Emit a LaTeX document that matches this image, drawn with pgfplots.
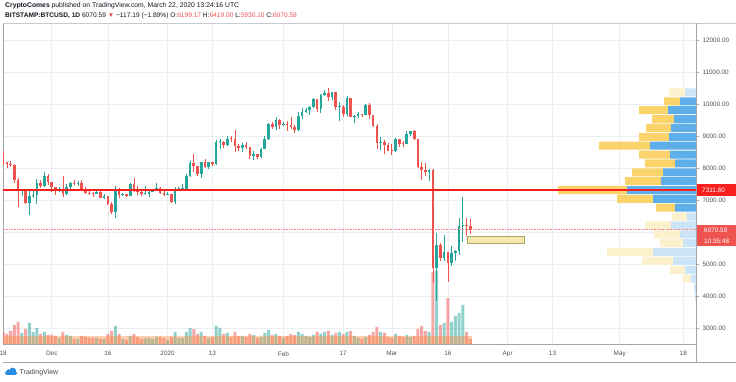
\documentclass[border=0pt]{standalone}
\usepackage{pgfplots}
\pgfplotsset{compat=1.18}
\usepackage{pgfplotstable}
\usepackage{fontspec}
\setmainfont{Liberation Sans}
\definecolor{tvgreen}{HTML}{26A69A}
\definecolor{tvred}{HTML}{EF5350}
\definecolor{pocred}{HTML}{F8201F}
\definecolor{gridc}{HTML}{EBEEF3}
\definecolor{framec}{HTML}{A3A6AE}
\definecolor{vpblue}{HTML}{5EAEEA}
\definecolor{vpyellow}{HTML}{FBD36B}
\definecolor{vpblueL}{HTML}{CBE4F7}
\definecolor{vpyellowL}{HTML}{FDF0CD}
\definecolor{volband}{HTML}{FF8A3D}
\definecolor{textc}{HTML}{131722}
\definecolor{axtext}{HTML}{50535E}
\definecolor{rectfill}{HTML}{F6E8B1}
\definecolor{rectborder}{HTML}{ABAA62}
\definecolor{logoblue}{HTML}{2A8FE0}

\pgfplotstableread{
d O H L C V
-44 8500 8520 8080 8180 12
-43 8180 8200 7990 8120 10
-42 8120 8210 8030 8080 13
-41 8080 8120 7520 7620 19
-40 7620 7700 6790 7290 22
-39 7290 7350 7130 7320 11
-38 7320 7340 6860 6910 15
-37 6910 7320 6520 7130 21
-36 7130 7340 7060 7170 12
-35 7170 7650 6860 7520 16
-34 7520 7630 7380 7440 10
-33 7440 7870 7420 7760 12
-32 7760 7820 7470 7560 9
-31 7560 7560 7240 7400 9
-30 7400 7420 7160 7300 8
-29 7300 7410 7250 7300 6
-28 7300 7750 7080 7200 12
-27 7200 7490 7170 7400 9
-26 7400 7570 7340 7540 8
-25 7540 7630 7470 7510 5
-24 7510 7580 7440 7520 5
-23 7520 7640 7300 7340 8
-22 7340 7400 7180 7220 7
-21 7220 7280 7160 7200 6
-20 7200 7260 7100 7190 6
-19 7190 7300 7180 7250 6
-18 7250 7270 7050 7070 5
-17 7070 7190 7020 7110 5
-16 7110 7140 6850 6880 10
-15 6880 6940 6560 6620 13
-14 6620 7440 6430 7280 18
-13 7280 7380 7050 7150 10
-12 7150 7220 7120 7190 5
-11 7190 7200 7100 7140 4
-10 7140 7520 7120 7510 8
-9 7510 7690 7260 7320 10
-8 7320 7440 7160 7250 7
-7 7250 7270 7130 7200 5
-6 7200 7440 7150 7200 6
-5 7200 7280 7080 7250 6
-4 7250 7350 7240 7300 5
-3 7300 7520 7280 7390 7
-2 7390 7410 7190 7220 7
-1 7220 7310 7130 7170 6
0 7170 7250 7150 7180 4
1 7180 7200 6920 6950 7
2 6950 7400 6860 7340 12
3 7340 7400 7270 7350 6
4 7350 7500 7300 7350 6
5 7350 7800 7340 7760 12
6 7760 8220 7720 8150 16
7 8150 8450 7870 8050 15
8 8050 8060 7760 7820 10
9 7820 8190 7680 8190 12
10 8190 8280 8000 8030 8
11 8030 8190 7970 8180 6
12 8180 8190 8060 8110 7
13 8110 8880 8100 8810 18
14 8810 8900 8580 8820 16
15 8820 8850 8620 8720 10
16 8720 9000 8680 8910 11
17 8910 9000 8820 8900 7
18 8900 9180 8500 8700 12
19 8700 8740 8520 8630 8
20 8630 8770 8490 8730 8
21 8730 8800 8600 8660 7
22 8660 8670 8290 8390 10
23 8390 8520 8240 8430 9
24 8430 8440 8270 8340 6
25 8340 8610 8300 8600 7
26 8600 8990 8580 8900 11
27 8900 9400 8880 9390 14
28 9390 9430 9220 9290 9
29 9290 9580 9200 9500 10
30 9500 9530 9230 9350 8
31 9350 9440 9310 9380 6
32 9380 9480 9160 9330 8
33 9330 9600 9230 9290 10
34 9290 9340 9100 9180 9
35 9180 9750 9170 9620 12
36 9620 9860 9530 9760 10
37 9760 9870 9720 9810 8
38 9810 9950 9670 9900 7
39 9900 10180 9880 10160 9
40 10160 10170 9740 9850 12
41 9850 10300 9720 10270 10
42 10270 10450 10240 10350 12
43 10350 10500 10080 10230 13
44 10230 10390 10130 10360 9
45 10360 10380 9820 9900 11
46 9900 10050 9460 9920 12
47 9920 9960 9580 9700 10
48 9700 10250 9620 10180 12
49 10180 10200 9600 9600 13
50 9600 9660 9420 9610 8
51 9610 9760 9570 9690 6
52 9690 9700 9590 9670 5
53 9670 9990 9660 9960 7
54 9960 10020 9520 9650 9
55 9650 9660 9280 9310 12
56 9310 9370 8600 8780 17
57 8780 8970 8550 8810 12
58 8810 8890 8450 8710 11
59 8710 8780 8530 8540 7
60 8540 8750 8410 8530 6
61 8530 8950 8510 8910 10
62 8910 8920 8650 8760 8
63 8760 8840 8660 8750 7
64 8750 9150 8750 9070 9
65 9070 9170 9010 9160 7
66 9160 9200 8860 8900 8
67 8900 8900 8000 8040 15
68 8040 8180 7640 7930 18
69 7930 8150 7740 7890 13
70 7890 7980 7600 7940 12
71 7940 7960 4420 4860 72
72 4860 5960 3850 5600 73
73 5600 5660 5080 5190 19
74 5190 5900 5100 5360 21
75 5360 5370 4440 5030 46
76 5030 5550 4930 5330 22
77 5330 5440 5100 5410 28
78 5410 6440 5270 6190 31
79 6190 7100 5700 6200 39
80 6200 6450 5860 6190 12
81 6199.17 6419 5930.1 6070.59 5
}\btc

\pgfplotstableread{
y B Y LB LY
10360.2 0 0 11 16
10083.1 16 16 0 0
9806.0 28 29 0 0
9528.9 22 22 0 0
9251.8 25 25 0 0
8974.7 27 30 0 0
8697.6 46 51 0 0
8420.5 26 31 0 0
8143.4 21 30 0 0
7866.3 33 31 0 0
7589.2 35 36 0 0
7311.8 69 69 0 0
7034.7 43 36 0 0
6757.6 21 19 0 0
6480.5 0 0 9 15
6203.4 0 0 25 26
5926.3 0 0 16 26
5649.2 0 0 13 23
5372.1 0 0 43 46
5095.0 0 0 23 31
4817.9 0 0 11 15
4540.8 0 0 5 8
4263.7 0 0 2 0
3986.6 0 0 1 0
}\vp

\pgfplotsset{
  chartgeom/.style={at={(3pt,38pt)}, anchor=south west, width=693pt, height=321pt,
    scale only axis, xmin=-44.05, xmax=141.4},
}

\begin{document}
\begin{tikzpicture}
\begin{scope}[x=1pt,y=1pt]
\fill[white] (0,0) rectangle (736,382);
\end{scope}

% ---- main axis: grid, ticks, labels
\begin{axis}[chartgeom, ymin=2500, ymax=12531,
  scaled y ticks=false, scaled x ticks=false,
  axis line style={framec, line width=0.5pt},
  grid=major, major grid style={gridc, line width=0.6pt},
  xtick={-44,-31,-16,0,12,31,47,60,75,91,103,121,138},
  xticklabels={18,Dec,16,2020,13,Feb,17,Mar,16,Apr,13,May,18},
  ytick={3000,4000,5000,6000,7000,8000,9000,10000,11000,12000},
  yticklabels={3000.00,4000.00,5000.00,{},7000.00,8000.00,9000.00,10000.00,11000.00,12000.00},
  yticklabel pos=right, ytick pos=right, xtick pos=bottom,
  tick align=outside, major tick length=3pt,
  x tick style={draw=none}, y tick style={framec, line width=0.5pt},
  tick label style={font=\fontsize{6.4}{7}\selectfont, text=axtext},
  xticklabel style={yshift=-1pt},
]
\end{axis}

% ---- visible range volume profile
\begin{axis}[at={(3pt,38pt)}, anchor=south west, width=693pt, height=321pt,
  scale only axis, xmin=0, xmax=693, x dir=reverse, ymin=2500, ymax=12531,
  axis lines=none, xbar stacked, bar width=250]
\addplot[draw=none, fill=vpblue] table[x=B,y=y]{\vp};
\addplot[draw=none, fill=vpyellow] table[x=Y,y=y]{\vp};
\addplot[draw=none, fill=vpblueL] table[x=LB,y=y]{\vp};
\addplot[draw=none, fill=vpyellowL] table[x=LY,y=y]{\vp};
\end{axis}

% ---- candles
\begin{axis}[chartgeom, ymin=2500, ymax=12531, axis lines=none, clip=true]
\addplot[draw=none, mark=none,
  y filter/.expression={\thisrow{C}<\thisrow{O} ? nan : y},
  error bars/.cd, y dir=plus, y explicit, error mark=none,
  error bar style={draw=tvgreen, line width=0.7pt}]
  table[x=d, y=L, y error plus expr=\thisrow{H}-\thisrow{L}]{\btc};
\addplot[draw=none, mark=none,
  y filter/.expression={\thisrow{C}<\thisrow{O} ? y : nan},
  error bars/.cd, y dir=plus, y explicit, error mark=none,
  error bar style={draw=tvred, line width=0.7pt}]
  table[x=d, y=L, y error plus expr=\thisrow{H}-\thisrow{L}]{\btc};
\addplot[draw=none, mark=none,
  y filter/.expression={\thisrow{C}<\thisrow{O} ? nan : y},
  error bars/.cd, y dir=plus, y explicit, error mark=none,
  error bar style={draw=tvgreen, line width=2.6pt}]
  table[x=d, y=O, y error plus expr={max(\thisrow{C}-\thisrow{O},30)}]{\btc};
\addplot[draw=none, mark=none,
  y filter/.expression={\thisrow{C}<\thisrow{O} ? y : nan},
  error bars/.cd, y dir=plus, y explicit, error mark=none,
  error bar style={draw=tvred, line width=2.6pt}]
  table[x=d, y=C, y error plus expr={max(\thisrow{O}-\thisrow{C},30)}]{\btc};
\end{axis}

% ---- volume overlay (translucent, over candles)
\begin{axis}[chartgeom, ymin=0, ymax=321, axis lines=none, clip=true]
\addplot[ybar, bar width=0.8, bar shift=0pt, draw=none, fill=tvred, fill opacity=0.5,
  y filter/.expression={\thisrow{C}<\thisrow{O} ? y : nan}] table[x=d,y=V]{\btc};
\addplot[ybar, bar width=0.8, bar shift=0pt, draw=none, fill=tvgreen, fill opacity=0.5,
  y filter/.expression={\thisrow{C}<\thisrow{O} ? nan : y}] table[x=d,y=V]{\btc};
\addplot[draw=none, fill=volband, fill opacity=0.4] coordinates {(-44.5,0) (-44.5,8) (81.5,8) (81.5,0)} -- cycle;
\end{axis}

% ---- lines on top
\begin{axis}[chartgeom, ymin=2500, ymax=12531, axis lines=none, clip=true]
\addplot[pocred, line width=1.1pt] coordinates {(-45,7311.8) (142,7311.8)};
\addplot[tvred!70, densely dotted, line width=0.6pt] coordinates {(-45,6070.59) (142,6070.59)};
\addplot[draw=rectborder, fill=rectfill, line width=0.6pt] coordinates {(80.2,5875) (95.5,5875) (95.5,5656) (80.2,5656)} -- cycle;
\end{axis}

\begin{scope}[x=1pt,y=1pt]
% ---- frame lines
\draw[gridc!50!framec, line width=0.5pt] (3,359) -- (736,359);
\draw[framec, line width=0.5pt] (696,20) -- (696,359);
\draw[framec, line width=0.5pt] (3,20) -- (736,20);

% ---- price labels
\fill[pocred] (697,186) rectangle (736,198);
\node[text=white, font=\fontsize{6.4}{7}\selectfont, anchor=west, inner sep=0pt] at (702,192) {7311.80};
\fill[tvred] (697,146.5) rectangle (736,157);
\node[text=white, font=\fontsize{6.4}{7}\selectfont, anchor=west, inner sep=0pt] at (704,151.7) {6070.59};
\fill[tvred] (697,135.5) rectangle (736,146.5);
\node[text=white, font=\fontsize{6.4}{7}\selectfont, anchor=west, inner sep=0pt] at (704,140.8) {10:35:48};

% ---- header
\node[anchor=west, text=textc, font=\fontsize{6.8}{8}\selectfont, inner sep=0pt] at (5,376)
  {\textbf{CryptoComes} published on TradingView.com, March 22, 2020 13:24:16 UTC};
\node[anchor=west, text=textc, font=\fontsize{6.6}{8}\selectfont, inner sep=0pt] at (5,366)
  {\textbf{BITSTAMP:BTCUSD, 1D} 6070.59 \textcolor{tvred}{▼} −117.19 (−1.89\%) O:\textcolor{tvred}{6199.17} H:\textcolor{tvred}{6419.00} L:\textcolor{tvred}{5930.10} C:\textcolor{tvred}{6070.59}};

% ---- logo
\fill[logoblue] (6,7) rectangle (16,10.5);
\fill[logoblue] (8.8,10.2) circle (2.6);
\fill[logoblue] (12.8,11.2) circle (3.2);
\fill[logoblue] (6.5,8.8) circle (1.8);
\fill[logoblue] (15.5,8.8) circle (1.8);
\node[anchor=west, text=textc!80, font=\fontsize{7}{8}\selectfont, inner sep=0pt] at (19.5,9.5) {TradingView};

\pgfresetboundingbox
\path[use as bounding box] (0,0) rectangle (736,382);
\end{scope}
\end{tikzpicture}
\end{document}
